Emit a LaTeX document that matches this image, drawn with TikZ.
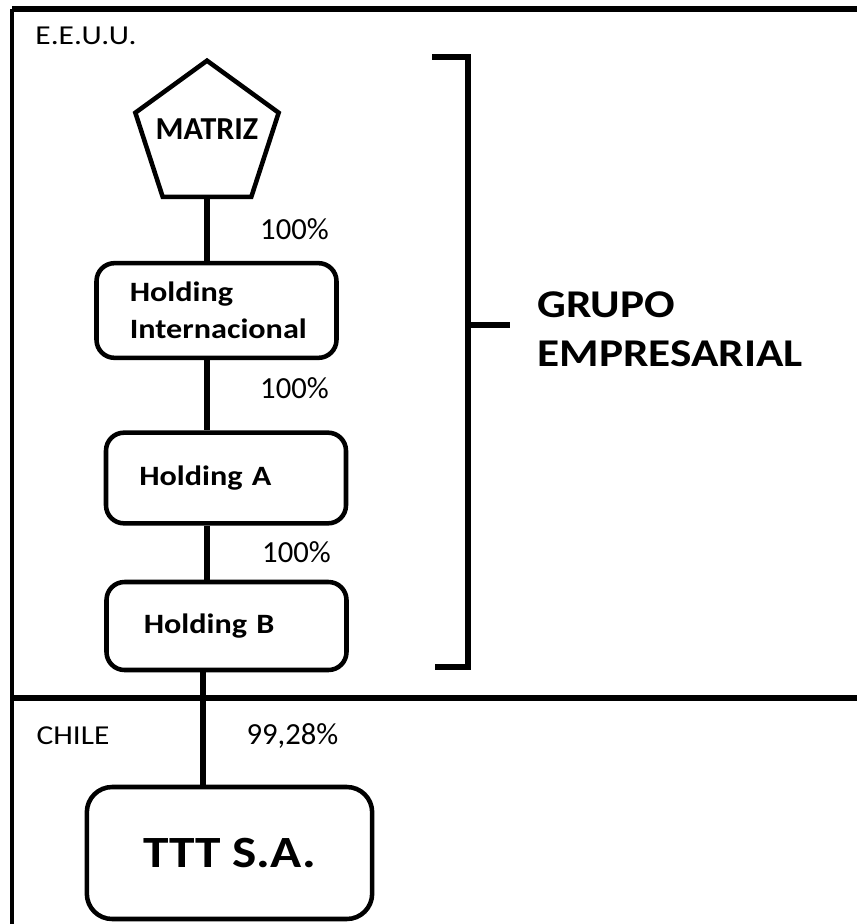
\documentclass[tikz,border=0pt]{standalone}
\usepackage{fontspec}
\setmainfont{Carlito}
\newfontfamily\widefont[FakeStretch=1.15]{Carlito}
\usetikzlibrary{shapes.geometric,positioning}

\begin{document}
\begin{tikzpicture}[
  x=0.75pt, y=-0.75pt,
  frame/.style={line width=4.5pt},
  link/.style={line width=3.8pt},
  holding/.style={rectangle, rounded corners=13.5pt, draw, line width=3.4pt,
    minimum width=180pt, minimum height=68pt, inner xsep=25pt,
    text width=130pt, align=left, font=\widefont\fontsize{21}{27.5}\selectfont\bfseries},
  country/.style={font=\widefont\fontsize{20.5}{24}\selectfont},
  pct/.style={font=\fontsize{23}{26}\selectfont}
]
\useasboundingbox (0,0) rectangle (857,924);

% Borders and country split
\draw[line width=4.5pt] (12,9) -- (857,9);
\draw[line width=3.2pt] (12,9) -- (12,924);
\draw[frame] (12,698) -- (857,698);

\node[country] (eeuu) at (86,36) {E.E.U.U.};
\node[country] (chile) at (73,736) {CHILE};

% Chain of companies
\node[regular polygon, regular polygon sides=5, draw, line width=3.4pt,
  minimum size=113pt, inner sep=0pt,
  label={[yshift=5pt, font=\fontsize{24}{26}\selectfont\bfseries]center:MATRIZ}]
  (matriz) at (207,136) {};
\node[holding, minimum width=178pt, minimum height=71pt] (hint) at (216.5,310.5)
  {Holding\\Internacional};
\node[holding] (holdA) at (226,478) {Holding A};
\node[holding, minimum height=66pt] (holdB) at (226.5,626) {\hspace*{3pt}Holding B};
\node[rectangle, rounded corners=19pt, draw, line width=3.4pt,
  minimum width=214pt, minimum height=99pt,
  font=\widefont\fontsize{33.5}{36}\selectfont\bfseries] (ttt) at (229.5,853) {TTT S.A.};

% Ownership links
\coordinate (axis) at (207,0);
\coordinate (taxis) at (203,0);
\draw[link] (matriz.south) -- (axis |- hint.north);
\draw[link] (axis |- hint.south) -- (axis |- holdA.north);
\draw[link] (axis |- holdA.south) -- (axis |- holdB.north);
\draw[link] (taxis |- holdB.south) -- (taxis |- ttt.north);

\node[pct] (p1) at (294.5,229) {100\%};
\node[pct] (p2) at (294.5,388) {100\%};
\node[pct] (p3) at (296.5,552) {100\%};
\node[pct] (p4) at (292.5,736) {99,28\%};

% Group bracket
\draw[frame] (432,57) -- (468,57) -- (468,667) -- (435,667);
\draw[frame] (468,325) -- (510,325);
\node[anchor=west, align=left, font=\widefont\fontsize{29.5}{37}\selectfont\bfseries]
  (grupo) at (533,329) {GRUPO\\EMPRESARIAL};

\end{tikzpicture}
\end{document}
